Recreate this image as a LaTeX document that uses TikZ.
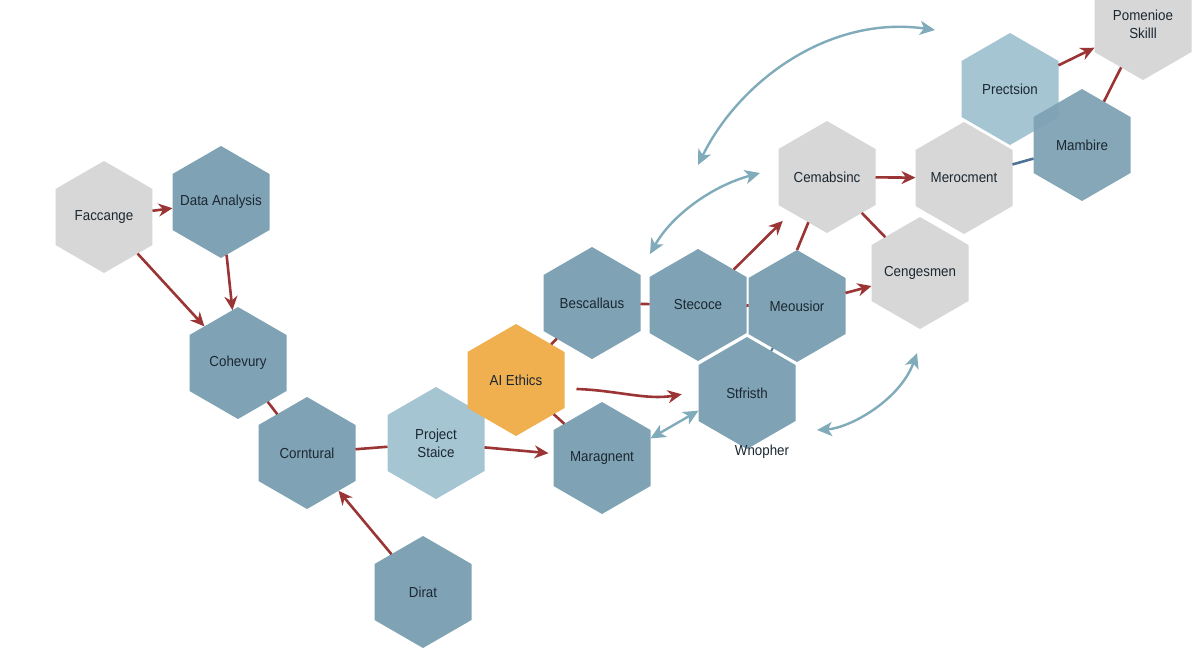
\documentclass[tikz,border=0pt]{standalone}
\usepackage{fontspec}
\setmainfont{Liberation Sans}[FakeStretch=0.92]
\usetikzlibrary{shapes.geometric,arrows.meta}
\definecolor{hexblue}{HTML}{7FA3B5}
\definecolor{hexlight}{HTML}{A5C5D3}
\definecolor{hexgray}{HTML}{D7D7D7}
\definecolor{hexorange}{HTML}{F0B050}
\definecolor{linkred}{HTML}{9B3535}
\definecolor{linkteal}{HTML}{80ABBA}
\definecolor{linkblue}{HTML}{4F7397}
\definecolor{txt}{HTML}{1B2731}
\begin{document}
\begin{tikzpicture}[x=1pt,y=1pt,
  hex/.style={regular polygon, regular polygon sides=6, shape border rotate=30,
    minimum size=112pt, inner sep=-16pt, outer sep=0pt, draw=none, text=txt,
    font=\fontsize{14.5}{18}\selectfont, align=center},
  hb/.style={hex, fill=hexblue},
  hl/.style={hex, fill=hexlight},
  hg/.style={hex, fill=hexgray},
  ho/.style={hex, fill=hexorange},
  redarr/.style={draw=linkred, line width=2.6pt, -{Stealth[length=14pt,width=13pt]}},
  redline/.style={draw=linkred, line width=2.6pt},
  blueline/.style={draw=linkblue, line width=2.6pt},
  tealarr/.style={draw=linkteal, line width=2.4pt,
    {Stealth[length=15pt,width=14pt,inset=4pt]}-{Stealth[length=15pt,width=14pt,inset=4pt]}}]
\useasboundingbox[fill=white] (0,0) rectangle (1200,-654);

% hexagons
\node[hg] (fac) at (104,-217) {Faccange};
\node[hb] (da)  at (221,-202) {Data Analysis};
\node[hb] (coh) at (238,-363) {Cohevury};
\node[hb] (cor) at (307,-453) {Corntural};
\node[hl] (ps)  at (436,-443) {Project\\Staice};
\node[ho] (ai)  at (516,-380) {AI Ethics};
\node[hb] (bes) at (592,-303) {Bescallaus};
\node[hb] (mar) at (602,-458) {Maragnent};
\node[hb] (dir) at (423,-592) {Dirat};
\node[hb] (ste) at (698,-305) {Stecoce};
\node[hb] (meo) at (797,-306) {Meousior};
\node[hb] (stf) at (747,-393) {Stfristh};
\node[hg] (cem) at (827,-177) {Cemabsinc};
\node[hg] (mer) at (964,-178) {Merocment};
\node[hg] (cen) at (920,-273) {Cengesmen};
\node[hl] (pre) at (1010,-89) {Prectsion};
\node[hb, opacity=0.95, text opacity=1] (mam) at (1082,-145) {Mambire};
\node[hg] (pom) at (1143,-24) {Pomenioe\\Skilll};
\node[text=txt, font=\fontsize{14.5}{18}\selectfont] (wno) at (762,-452) {Wnopher};

% red connectors
\draw[redarr] (fac) -- (da);
\draw[redarr] (fac) -- (coh);
\draw[redarr] (da) -- (coh);
\draw[redline] (coh) -- (cor);
\draw[redline] (cor) -- (ps);
\draw[redarr] (dir) -- (cor);
\draw[redarr, shorten >=5pt] (ps) -- (mar);
\draw[redline] (ai) -- (bes);
\draw[redline] (ai) -- (mar);
\draw[redarr, shorten <=12pt, shorten >=17pt] (ai.-10) to[out=-2, in=190] (stf.178);
\draw[redline] (bes) -- (ste);
\draw[redline] (ste) -- (meo);
\draw[redarr, shorten >=12pt] (ste) -- (cem);
\draw[redline] (meo.90) -- (cem);
\draw[redarr] (meo) -- (cen);
\draw[redarr] (cem) -- (mer);
\draw[redline] (cem) -- (cen);
\draw[redarr] (pre) -- (pom);
\draw[redline] (mam) -- (pom);
\draw[blueline] (mer) -- (mam);
\draw[draw=linkblue, line width=2pt] (meo) -- (stf);

% teal double arrows
\coordinate (t1a) at (698,-165);
\coordinate (t1b) at (935,-30);
\draw[tealarr] (t1a) .. controls (740,-80) and (830,-15) .. (t1b);
\coordinate (t2a) at (650,-254);
\coordinate (t2b) at (760,-173);
\draw[tealarr] (t2a) .. controls (672,-215) and (712,-186) .. (t2b);
\draw[tealarr] (mar.22) -- (stf.200);
\coordinate (t4a) at (817,-430);
\coordinate (t4b) at (917,-353);
\draw[tealarr] (t4a) .. controls (850,-428) and (900,-400) .. (t4b);
\end{tikzpicture}
\end{document}
